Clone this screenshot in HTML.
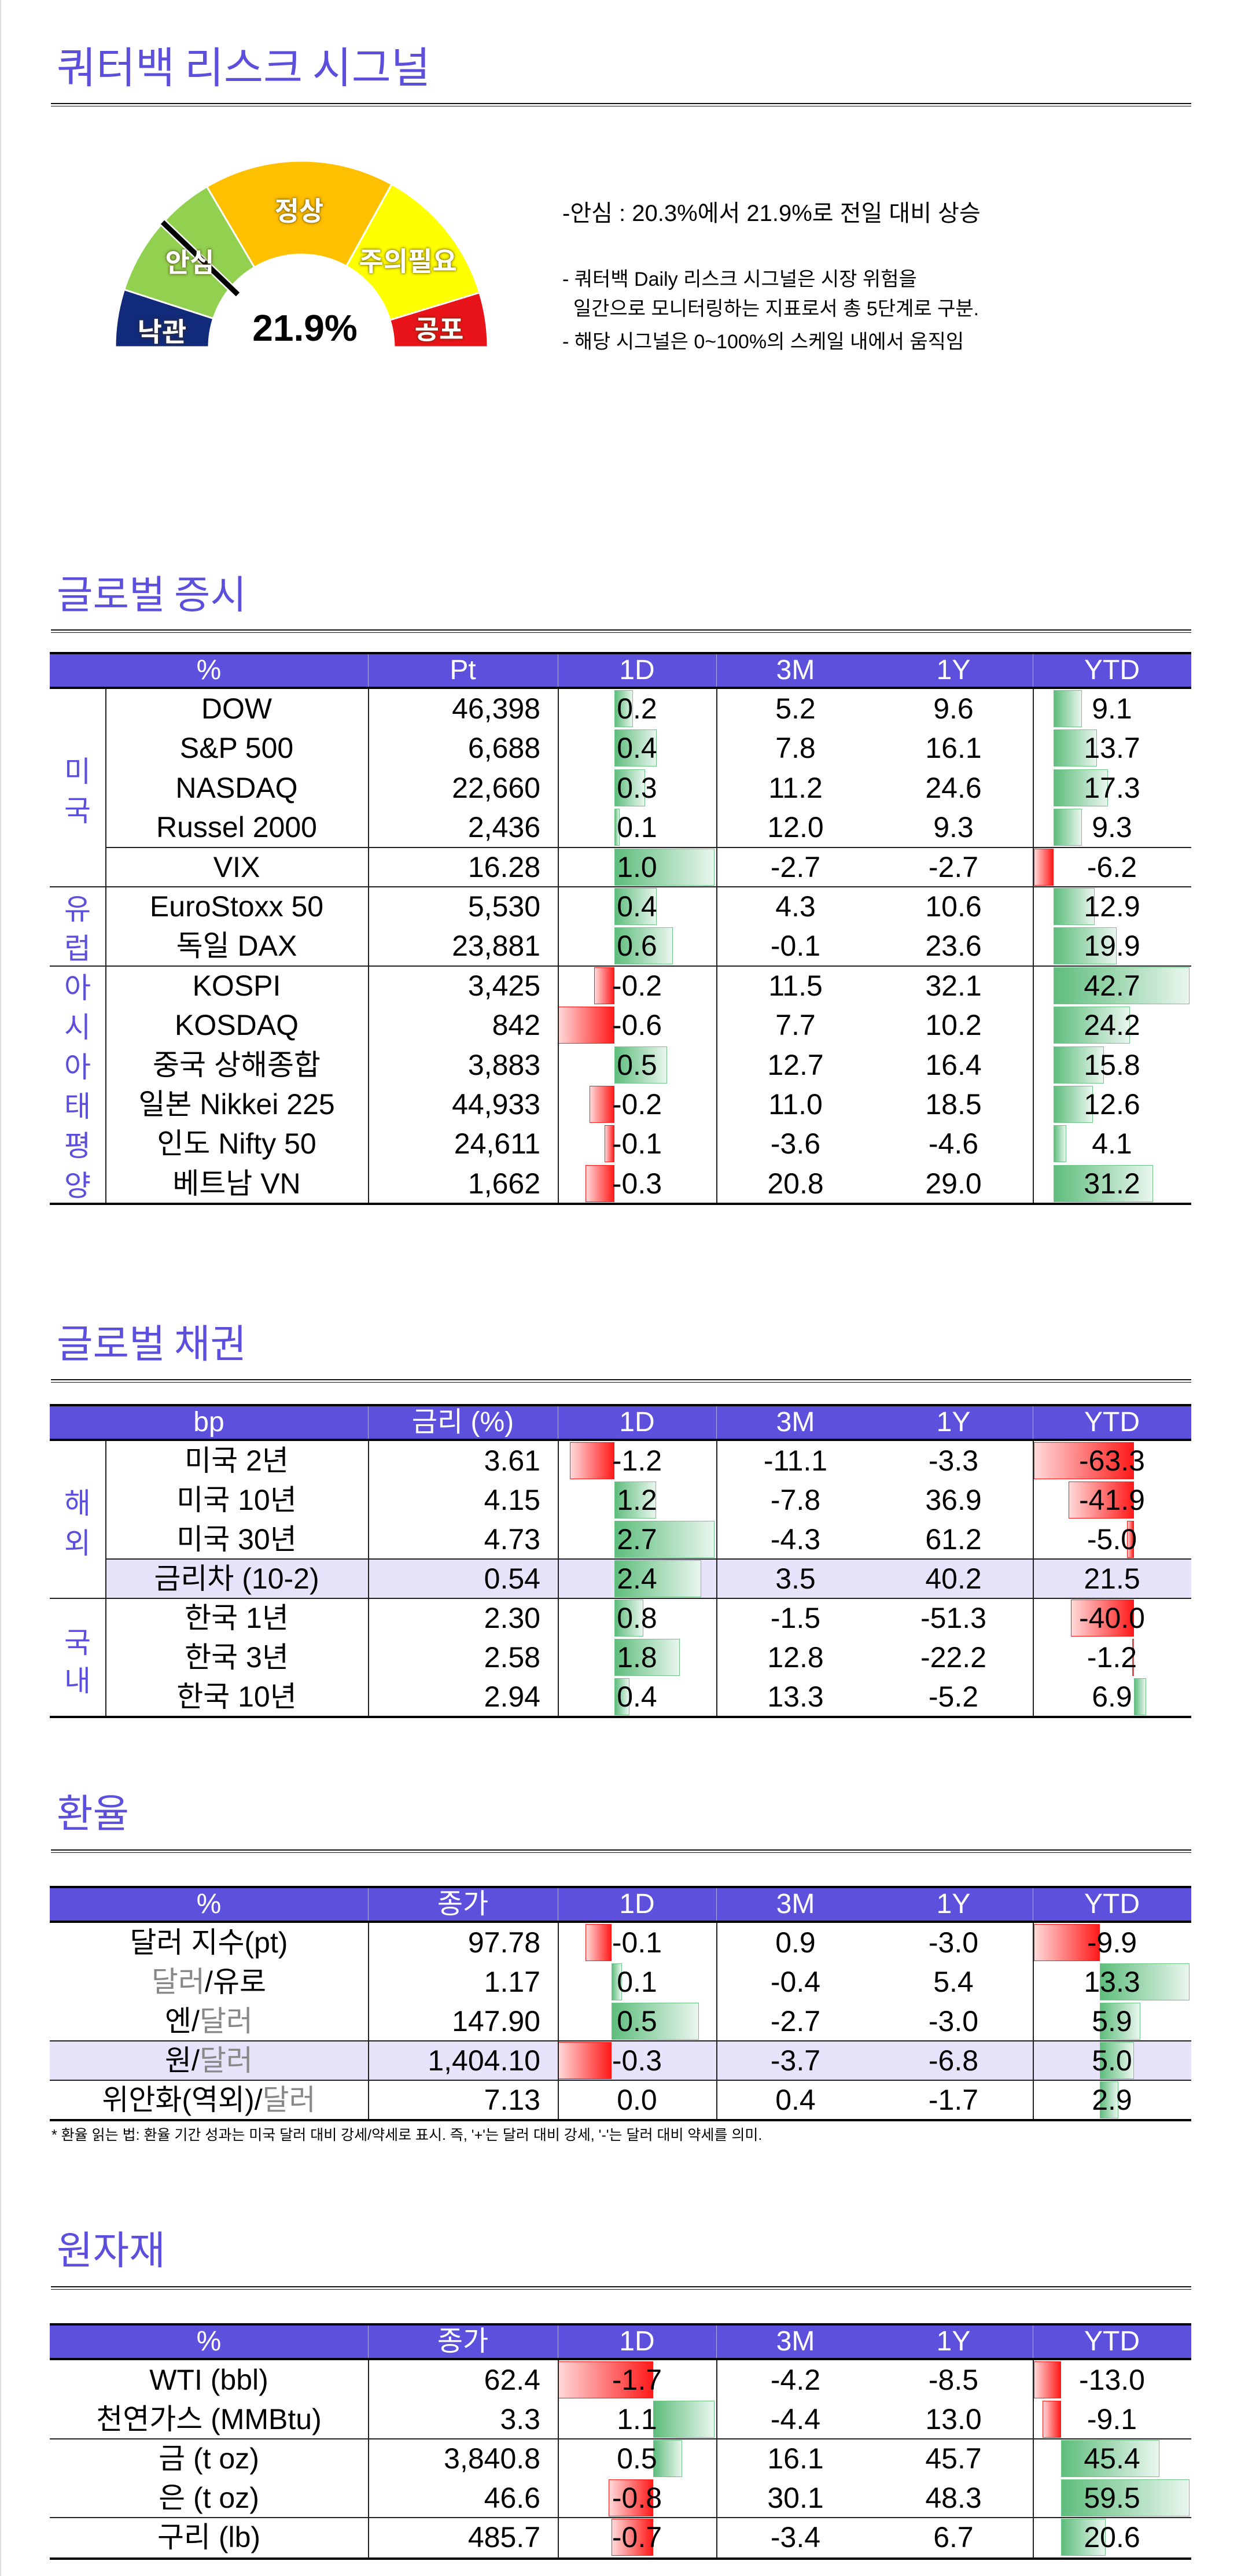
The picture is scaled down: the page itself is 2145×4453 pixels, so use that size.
<!DOCTYPE html>
<html><head><meta charset="utf-8">
<style>
*{margin:0;padding:0;box-sizing:border-box}
body{width:2145px;height:4453px;background:#fff;position:relative;overflow:hidden;font-family:"Liberation Sans","Noto Sans CJK KR",sans-serif;color:#000}
.a{position:absolute}
.ttl{position:absolute;left:98px;color:#5b4fdb;font-size:68px;line-height:80px;height:80px;font-family:"Noto Sans CJK KR","Liberation Sans",sans-serif}
.rule{position:absolute;left:88px;width:1971px;height:6px;border-top:2px solid #111;border-bottom:1.5px solid #111}
.tb{position:absolute;left:0;width:2145px}
.hd{position:absolute;left:86px;width:1973px;top:0;height:64px;background:#5d50dc;border-top:4px solid #000;border-bottom:4px solid #000}
.ht{position:absolute;top:0;height:64px;line-height:64px;color:#fff;font-size:48px;text-align:center}
.hv{position:absolute;top:4px;height:56px;width:1px;background:#b3adf0}
.r{position:absolute;left:0;width:2145px;height:68px}
.r span{position:absolute;top:0;height:68px;line-height:68px;font-size:50px;white-space:nowrap}
.n{left:182px;width:454px;text-align:center}
.nf{left:86px;width:550px;text-align:center}
.p{left:636px;width:298px;text-align:right}
.d{left:964px;width:274px;text-align:center}
.m{left:1238px;width:274px;text-align:center}
.y{left:1511px;width:274px;text-align:center}
.t{left:1785px;width:274px;text-align:center}
.g,.rd{position:absolute;top:2px;height:64px}
.g{background:linear-gradient(to right,#5ebd7c,#e9f6ee);border:1.5px solid #6cc487}
.rd{background:linear-gradient(to right,#ffd9d9,#ff1a1a);border:1.5px solid #ff1a1a}
.vl{position:absolute;width:1.5px;background:#222}
.hl{position:absolute;height:2px;background:#222}
.bl{position:absolute;left:86px;width:1973px;height:4px;background:#000}
.grp{position:absolute;left:86px;width:96px;text-align:center;color:#5b4fdb;font-size:50px;height:68px;line-height:68px;font-family:"Noto Sans CJK KR",sans-serif}
.gy{color:#888}
.lav{position:absolute;height:68px;background:#e6e3fb}
.gl{position:absolute;color:#fff;font-weight:bold;font-size:46px;text-shadow:0 0 6px rgba(90,60,0,.7),0 0 3px rgba(0,0,0,.5);font-family:"Noto Sans CJK KR",sans-serif;text-align:center;width:200px;line-height:60px}
</style></head><body>
<div class="a" style="left:0;top:0;width:2px;height:4453px;background:#ddd"></div>

<div class="ttl" style="top:72px;font-size:74px">쿼터백 리스크 시그널</div>
<div class="rule" style="top:178px"></div>

<svg class="a" style="left:0;top:0" width="1000" height="700" viewBox="0 0 1000 700">
<g stroke="#fff" stroke-width="3">
<path d="M199,600 A322,322 0 0 1 214.7,500.5 L368.8,550.6 A160,160 0 0 0 361,600 Z" fill="#112a7a"/>
<path d="M214.7,500.5 A322,322 0 0 1 357.6,322.6 L439.8,462.1 A160,160 0 0 0 368.8,550.6 Z" fill="#92d050"/>
<path d="M357.6,322.6 A322,322 0 0 1 677.1,318.4 L598.6,460.1 A160,160 0 0 0 439.8,462.1 Z" fill="#ffc000"/>
<path d="M677.1,318.4 A322,322 0 0 1 828.9,505.8 L674,553.2 A160,160 0 0 0 598.6,460.1 Z" fill="#ffff00"/>
<path d="M828.9,505.8 A322,322 0 0 1 843,600 L681,600 A160,160 0 0 0 674,553.2 Z" fill="#e8141a"/>
</g>
<line x1="281" y1="384" x2="411" y2="509" stroke="#fff" stroke-width="14"/>
<line x1="281" y1="384" x2="411" y2="509" stroke="#000" stroke-width="9"/>
</svg>
<div class="gl" style="left:417px;top:332px">정상</div>
<div class="gl" style="left:228px;top:421px">안심</div>
<div class="gl" style="left:605px;top:419px">주의필요</div>
<div class="gl" style="left:180px;top:541px">낙관</div>
<div class="gl" style="left:659px;top:537px">공포</div>
<div class="a" style="left:407px;top:527px;width:240px;text-align:center;font-size:64px;font-weight:bold;line-height:80px">21.9%</div>

<div class="a" style="left:972px;top:344px;font-size:40px;line-height:50px;white-space:nowrap">-안심 : 20.3%에서 21.9%로 전일 대비 상승</div>
<div class="a" style="left:972px;top:462px;font-size:34px;line-height:42px;white-space:nowrap">- 쿼터백 Daily 리스크 시그널은 시장 위험을</div>
<div class="a" style="left:972px;top:513px;font-size:34px;line-height:42px;white-space:nowrap">&nbsp; 일간으로 모니터링하는 지표로서 총 5단계로 구분.</div>
<div class="a" style="left:972px;top:570px;font-size:34px;line-height:42px;white-space:nowrap">- 해당 시그널은 0~100%의 스케일 내에서 움직임</div>

<!-- 글로벌 증시 -->
<div class="ttl" style="top:983px">글로벌 증시</div>
<div class="rule" style="top:1088px"></div>
<div class="tb" style="top:1127px">
<div class="hd"></div>
<div class="hv" style="left:636px"></div><div class="hv" style="left:964px"></div><div class="hv" style="left:1238px"></div><div class="hv" style="left:1785px"></div>
<div class="ht" style="left:86px;width:550px">%</div><div class="ht" style="left:636px;width:328px">Pt</div><div class="ht" style="left:964px;width:274px">1D</div><div class="ht" style="left:1238px;width:274px">3M</div><div class="ht" style="left:1511px;width:274px">1Y</div><div class="ht" style="left:1785px;width:274px">YTD</div>
<div class="r" style="top:64px"><div class="g" style="left:1062px;width:32px"></div><div class="g" style="left:1821px;width:49px"></div><span class="n">DOW</span><span class="p">46,398</span><span class="d">0.2</span><span class="m">5.2</span><span class="y">9.6</span><span class="t">9.1</span></div>
<div class="r" style="top:132.4px"><div class="g" style="left:1062px;width:73px"></div><div class="g" style="left:1821px;width:75px"></div><span class="n">S&amp;P 500</span><span class="p">6,688</span><span class="d">0.4</span><span class="m">7.8</span><span class="y">16.1</span><span class="t">13.7</span></div>
<div class="r" style="top:200.8px"><div class="g" style="left:1062px;width:53px"></div><div class="g" style="left:1821px;width:94px"></div><span class="n">NASDAQ</span><span class="p">22,660</span><span class="d">0.3</span><span class="m">11.2</span><span class="y">24.6</span><span class="t">17.3</span></div>
<div class="r" style="top:269.2px"><div class="g" style="left:1062px;width:9px"></div><div class="g" style="left:1821px;width:49px"></div><span class="n">Russel 2000</span><span class="p">2,436</span><span class="d">0.1</span><span class="m">12.0</span><span class="y">9.3</span><span class="t">9.3</span></div>
<div class="r" style="top:337.6px"><div class="g" style="left:1062px;width:173px"></div><div class="rd" style="left:1787px;width:34px"></div><span class="n">VIX</span><span class="p">16.28</span><span class="d">1.0</span><span class="m">-2.7</span><span class="y">-2.7</span><span class="t">-6.2</span></div>
<div class="r" style="top:406px"><div class="g" style="left:1062px;width:73px"></div><div class="g" style="left:1821px;width:71px"></div><span class="n">EuroStoxx 50</span><span class="p">5,530</span><span class="d">0.4</span><span class="m">4.3</span><span class="y">10.6</span><span class="t">12.9</span></div>
<div class="r" style="top:474.4px"><div class="g" style="left:1062px;width:101px"></div><div class="g" style="left:1821px;width:109px"></div><span class="n">독일 DAX</span><span class="p">23,881</span><span class="d">0.6</span><span class="m">-0.1</span><span class="y">23.6</span><span class="t">19.9</span></div>
<div class="r" style="top:542.8px"><div class="rd" style="left:1027px;width:35px"></div><div class="g" style="left:1821px;width:235px"></div><span class="n">KOSPI</span><span class="p">3,425</span><span class="d">-0.2</span><span class="m">11.5</span><span class="y">32.1</span><span class="t">42.7</span></div>
<div class="r" style="top:611.2px"><div class="rd" style="left:964px;width:98px"></div><div class="g" style="left:1821px;width:132px"></div><span class="n">KOSDAQ</span><span class="p">842</span><span class="d">-0.6</span><span class="m">7.7</span><span class="y">10.2</span><span class="t">24.2</span></div>
<div class="r" style="top:679.6px"><div class="g" style="left:1062px;width:91px"></div><div class="g" style="left:1821px;width:87px"></div><span class="n">중국 상해종합</span><span class="p">3,883</span><span class="d">0.5</span><span class="m">12.7</span><span class="y">16.4</span><span class="t">15.8</span></div>
<div class="r" style="top:748px"><div class="rd" style="left:1019px;width:43px"></div><div class="g" style="left:1821px;width:68px"></div><span class="n">일본 Nikkei 225</span><span class="p">44,933</span><span class="d">-0.2</span><span class="m">11.0</span><span class="y">18.5</span><span class="t">12.6</span></div>
<div class="r" style="top:816.4px"><div class="rd" style="left:1045px;width:17px"></div><div class="g" style="left:1821px;width:22px"></div><span class="n">인도 Nifty 50</span><span class="p">24,611</span><span class="d">-0.1</span><span class="m">-3.6</span><span class="y">-4.6</span><span class="t">4.1</span></div>
<div class="r" style="top:884.8px"><div class="rd" style="left:1012px;width:50px"></div><div class="g" style="left:1821px;width:172px"></div><span class="n">베트남 VN</span><span class="p">1,662</span><span class="d">-0.3</span><span class="m">20.8</span><span class="y">29.0</span><span class="t">31.2</span></div>
<div class="vl" style="left:182px;top:64px;height:889px"></div><div class="vl" style="left:636px;top:64px;height:889px"></div><div class="vl" style="left:964px;top:64px;height:889px"></div><div class="vl" style="left:1238px;top:64px;height:889px"></div><div class="vl" style="left:1785px;top:64px;height:889px"></div>
<div class="hl" style="left:182px;width:1877px;top:337px"></div>
<div class="hl" style="left:86px;width:1973px;top:405px"></div>
<div class="hl" style="left:86px;width:1973px;top:542px"></div>
<div class="bl" style="top:952px"></div>
<div class="grp" style="top:169px">미</div><div class="grp" style="top:237px">국</div>
<div class="grp" style="top:407px">유</div><div class="grp" style="top:475px">럽</div>
<div class="grp" style="top:543px">아</div><div class="grp" style="top:611px">시</div><div class="grp" style="top:680px">아</div><div class="grp" style="top:748px">태</div><div class="grp" style="top:816px">평</div><div class="grp" style="top:885px">양</div>
</div>

<!-- 글로벌 채권 -->
<div class="ttl" style="top:2278px">글로벌 채권</div>
<div class="rule" style="top:2384px"></div>
<div class="tb" style="top:2427px">
<div class="hd"></div>
<div class="hv" style="left:636px"></div><div class="hv" style="left:964px"></div><div class="hv" style="left:1238px"></div><div class="hv" style="left:1785px"></div>
<div class="ht" style="left:86px;width:550px">bp</div><div class="ht" style="left:636px;width:328px">금리 (%)</div><div class="ht" style="left:964px;width:274px">1D</div><div class="ht" style="left:1238px;width:274px">3M</div><div class="ht" style="left:1511px;width:274px">1Y</div><div class="ht" style="left:1785px;width:274px">YTD</div>
<div class="lav" style="left:182px;width:1877px;top:268px"></div>
<div class="r" style="top:64px"><div class="rd" style="left:985px;width:77px"></div><div class="rd" style="left:1787px;width:173px"></div><span class="n">미국 2년</span><span class="p">3.61</span><span class="d">-1.2</span><span class="m">-11.1</span><span class="y">-3.3</span><span class="t">-63.3</span></div>
<div class="r" style="top:132px"><div class="g" style="left:1062px;width:72px"></div><div class="rd" style="left:1847px;width:113px"></div><span class="n">미국 10년</span><span class="p">4.15</span><span class="d">1.2</span><span class="m">-7.8</span><span class="y">36.9</span><span class="t">-41.9</span></div>
<div class="r" style="top:200px"><div class="g" style="left:1062px;width:173px"></div><div class="rd" style="left:1948px;width:12px"></div><span class="n">미국 30년</span><span class="p">4.73</span><span class="d">2.7</span><span class="m">-4.3</span><span class="y">61.2</span><span class="t">-5.0</span></div>
<div class="r" style="top:268px"><div class="g" style="left:1062px;width:150px"></div><span class="n">금리차 (10-2)</span><span class="p">0.54</span><span class="d">2.4</span><span class="m">3.5</span><span class="y">40.2</span><span class="t">21.5</span></div>
<div class="r" style="top:336px"><div class="g" style="left:1062px;width:50px"></div><div class="rd" style="left:1851px;width:109px"></div><span class="n">한국 1년</span><span class="p">2.30</span><span class="d">0.8</span><span class="m">-1.5</span><span class="y">-51.3</span><span class="t">-40.0</span></div>
<div class="r" style="top:404px"><div class="g" style="left:1062px;width:113px"></div><div class="rd" style="left:1957px;width:3px"></div><span class="n">한국 3년</span><span class="p">2.58</span><span class="d">1.8</span><span class="m">12.8</span><span class="y">-22.2</span><span class="t">-1.2</span></div>
<div class="r" style="top:472px"><div class="g" style="left:1062px;width:26px"></div><div class="g" style="left:1960px;width:21px"></div><span class="n">한국 10년</span><span class="p">2.94</span><span class="d">0.4</span><span class="m">13.3</span><span class="y">-5.2</span><span class="t">6.9</span></div>
<div class="vl" style="left:182px;top:64px;height:476px"></div><div class="vl" style="left:636px;top:64px;height:476px"></div><div class="vl" style="left:964px;top:64px;height:476px"></div><div class="vl" style="left:1238px;top:64px;height:476px"></div><div class="vl" style="left:1785px;top:64px;height:476px"></div>
<div class="hl" style="left:182px;width:1877px;top:267px"></div>
<div class="hl" style="left:86px;width:1973px;top:335px"></div>
<div class="bl" style="top:539px"></div>
<div class="grp" style="top:134px">해</div><div class="grp" style="top:203px">외</div>
<div class="grp" style="top:375px">국</div><div class="grp" style="top:441px">내</div>
</div>

<!-- 환율 -->
<div class="ttl" style="top:3090px">환율</div>
<div class="rule" style="top:3197px"></div>
<div class="tb" style="top:3260px">
<div class="hd"></div>
<div class="hv" style="left:636px"></div><div class="hv" style="left:964px"></div><div class="hv" style="left:1238px"></div><div class="hv" style="left:1785px"></div>
<div class="ht" style="left:86px;width:550px">%</div><div class="ht" style="left:636px;width:328px">종가</div><div class="ht" style="left:964px;width:274px">1D</div><div class="ht" style="left:1238px;width:274px">3M</div><div class="ht" style="left:1511px;width:274px">1Y</div><div class="ht" style="left:1785px;width:274px">YTD</div>
<div class="lav" style="left:86px;width:1973px;top:268px"></div>
<div class="r" style="top:64px"><div class="rd" style="left:1012px;width:45px"></div><div class="rd" style="left:1787px;width:114px"></div><span class="nf">달러 지수(pt)</span><span class="p">97.78</span><span class="d">-0.1</span><span class="m">0.9</span><span class="y">-3.0</span><span class="t">-9.9</span></div>
<div class="r" style="top:132px"><div class="g" style="left:1057px;width:18px"></div><div class="g" style="left:1901px;width:155px"></div><span class="nf"><i class="gy" style="font-style:normal">달러</i>/유로</span><span class="p">1.17</span><span class="d">0.1</span><span class="m">-0.4</span><span class="y">5.4</span><span class="t">13.3</span></div>
<div class="r" style="top:200px"><div class="g" style="left:1057px;width:151px"></div><div class="g" style="left:1901px;width:70px"></div><span class="nf">엔/<i class="gy" style="font-style:normal">달러</i></span><span class="p">147.90</span><span class="d">0.5</span><span class="m">-2.7</span><span class="y">-3.0</span><span class="t">5.9</span></div>
<div class="r" style="top:268px"><div class="rd" style="left:964px;width:93px"></div><div class="g" style="left:1901px;width:59px"></div><span class="nf">원/<i class="gy" style="font-style:normal">달러</i></span><span class="p">1,404.10</span><span class="d">-0.3</span><span class="m">-3.7</span><span class="y">-6.8</span><span class="t">5.0</span></div>
<div class="r" style="top:336px"><div class="g" style="left:1901px;width:32px"></div><span class="nf">위안화(역외)/<i class="gy" style="font-style:normal">달러</i></span><span class="p">7.13</span><span class="d">0.0</span><span class="m">0.4</span><span class="y">-1.7</span><span class="t">2.9</span></div>
<div class="vl" style="left:636px;top:64px;height:341px"></div><div class="vl" style="left:964px;top:64px;height:341px"></div><div class="vl" style="left:1238px;top:64px;height:341px"></div><div class="vl" style="left:1785px;top:64px;height:341px"></div>
<div class="hl" style="left:86px;width:1973px;top:267px"></div>
<div class="hl" style="left:86px;width:1973px;top:335px"></div>
<div class="bl" style="top:403px"></div>
</div>
<div class="a" style="left:89px;top:3675px;font-size:25px;line-height:32px;white-space:nowrap">* 환율 읽는 법: 환율 기간 성과는 미국 달러 대비 강세/약세로 표시. 즉, '+'는 달러 대비 강세, '-'는 달러 대비 약세를 의미.</div>

<!-- 원자재 -->
<div class="ttl" style="top:3845px">원자재</div>
<div class="rule" style="top:3952px"></div>
<div class="tb" style="top:4016px">
<div class="hd"></div>
<div class="hv" style="left:636px"></div><div class="hv" style="left:964px"></div><div class="hv" style="left:1238px"></div><div class="hv" style="left:1785px"></div>
<div class="ht" style="left:86px;width:550px">%</div><div class="ht" style="left:636px;width:328px">종가</div><div class="ht" style="left:964px;width:274px">1D</div><div class="ht" style="left:1238px;width:274px">3M</div><div class="ht" style="left:1511px;width:274px">1Y</div><div class="ht" style="left:1785px;width:274px">YTD</div>
<div class="r" style="top:64px"><div class="rd" style="left:964px;width:165px"></div><div class="rd" style="left:1787px;width:47px"></div><span class="nf">WTI (bbl)</span><span class="p">62.4</span><span class="d">-1.7</span><span class="m">-4.2</span><span class="y">-8.5</span><span class="t">-13.0</span></div>
<div class="r" style="top:132px"><div class="g" style="left:1129px;width:106px"></div><div class="rd" style="left:1802px;width:32px"></div><span class="nf">천연가스 (MMBtu)</span><span class="p">3.3</span><span class="d">1.1</span><span class="m">-4.4</span><span class="y">13.0</span><span class="t">-9.1</span></div>
<div class="r" style="top:200px"><div class="g" style="left:1129px;width:50px"></div><div class="g" style="left:1834px;width:170px"></div><span class="nf">금 (t oz)</span><span class="p">3,840.8</span><span class="d">0.5</span><span class="m">16.1</span><span class="y">45.7</span><span class="t">45.4</span></div>
<div class="r" style="top:268px"><div class="rd" style="left:1052px;width:77px"></div><div class="g" style="left:1834px;width:222px"></div><span class="nf">은 (t oz)</span><span class="p">46.6</span><span class="d">-0.8</span><span class="m">30.1</span><span class="y">48.3</span><span class="t">59.5</span></div>
<div class="r" style="top:336px"><div class="rd" style="left:1057px;width:72px"></div><div class="g" style="left:1834px;width:77px"></div><span class="nf">구리 (lb)</span><span class="p">485.7</span><span class="d">-0.7</span><span class="m">-3.4</span><span class="y">6.7</span><span class="t">20.6</span></div>
<div class="vl" style="left:636px;top:64px;height:343px"></div><div class="vl" style="left:964px;top:64px;height:343px"></div><div class="vl" style="left:1238px;top:64px;height:343px"></div><div class="vl" style="left:1785px;top:64px;height:343px"></div>
<div class="hl" style="left:86px;width:1973px;top:199px"></div>
<div class="hl" style="left:86px;width:1973px;top:335px"></div>
<div class="bl" style="top:405px"></div>
</div>
</body></html>
